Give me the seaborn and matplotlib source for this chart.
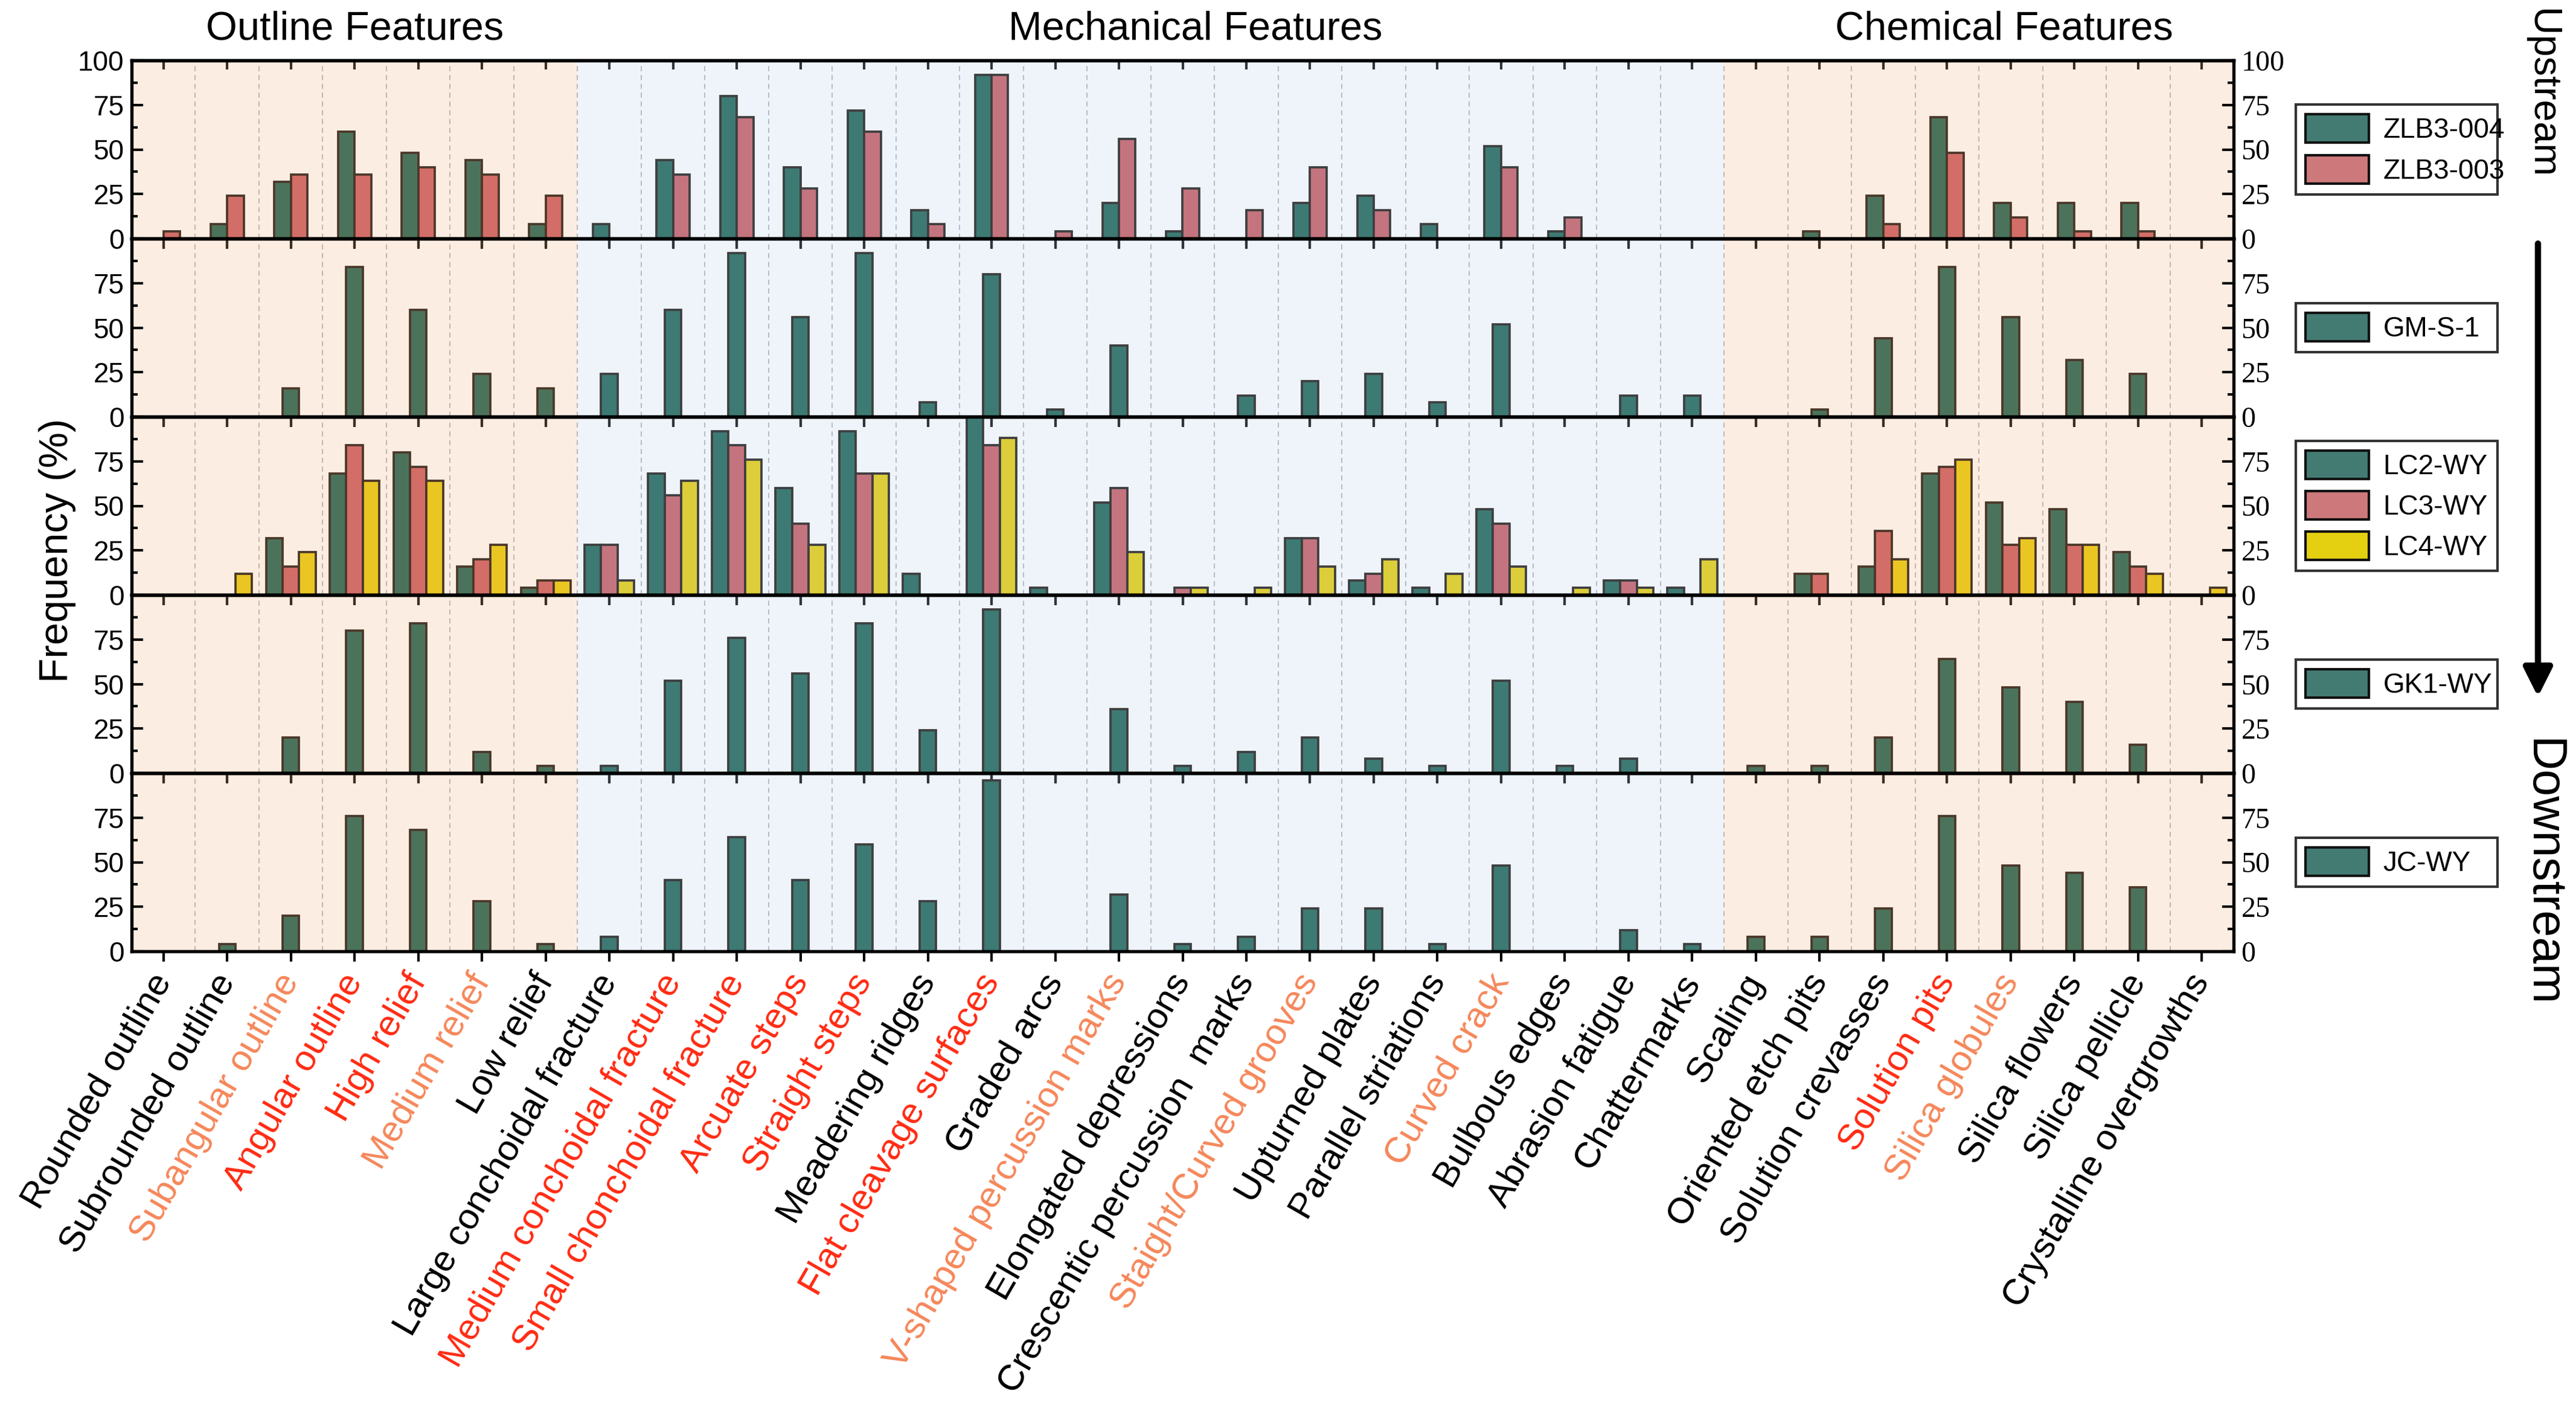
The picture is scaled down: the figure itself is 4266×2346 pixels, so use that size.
import numpy as np
import pandas as pd
import matplotlib
matplotlib.use("Agg")
import matplotlib.pyplot as plt
import matplotlib.transforms as mtransforms
from matplotlib.patches import Patch, FancyArrowPatch
import seaborn as sns

# ---------------- data ----------------
categories = [
    "Rounded outline", "Subrounded outline", "Subangular outline", "Angular outline",
    "High relief", "Medium relief", "Low relief",
    "Large conchoidal fracture", "Medium conchoidal fracture", "Small chonchoidal fracture",
    "Arcuate steps", "Straight steps", "Meadering ridges", "Flat cleavage surfaces",
    "Graded arcs", "V-shaped percussion marks", "Elongated depressions",
    "Crescentic percussion  marks", "Staight/Curved grooves", "Upturned plates",
    "Parallel striations", "Curved crack", "Bulbous edges", "Abrasion fatigue",
    "Chattermarks",
    "Scaling", "Oriented etch pits", "Solution crevasses", "Solution pits",
    "Silica globules", "Silica flowers", "Silica pellicle", "Crystalline overgrowths",
]
# label emphasis: 0 = black, 1 = orange, 2 = red
label_emphasis = [0, 0, 1, 2, 2, 1, 0,
                  0, 2, 2, 2, 2, 0, 2, 0, 1, 0, 0, 1, 0, 0, 1, 0, 0, 0,
                  0, 0, 0, 2, 1, 0, 0, 0]

zlb3_004 = [0, 8, 32, 60, 48, 44, 8, 8, 44, 80, 40, 72, 16, 92, 0, 20, 4, 0, 20, 24, 8, 52, 4, 0, 0,
            0, 4, 24, 68, 20, 20, 20, 0]
zlb3_003 = [4, 24, 36, 36, 40, 36, 24, 0, 36, 68, 28, 60, 8, 92, 4, 56, 28, 16, 40, 16, 0, 40, 12, 0, 0,
            0, 0, 8, 48, 12, 4, 4, 0]
gm_s_1 = [0, 0, 16, 84, 60, 24, 16, 24, 60, 92, 56, 92, 8, 80, 4, 40, 0, 12, 20, 24, 8, 52, 0, 12, 12,
          0, 4, 44, 84, 56, 32, 24, 0]
lc2_wy = [0, 0, 32, 68, 80, 16, 4, 28, 68, 92, 60, 92, 12, 100, 4, 52, 0, 0, 32, 8, 4, 48, 0, 8, 4,
          0, 12, 16, 68, 52, 48, 24, 0]
lc3_wy = [0, 0, 16, 84, 72, 20, 8, 28, 56, 84, 40, 68, 0, 84, 0, 60, 4, 0, 32, 12, 0, 40, 0, 8, 0,
          0, 12, 36, 72, 28, 28, 16, 0]
lc4_wy = [0, 12, 24, 64, 64, 28, 8, 8, 64, 76, 28, 68, 0, 88, 0, 24, 4, 4, 16, 20, 12, 16, 4, 4, 20,
          0, 0, 20, 76, 32, 28, 12, 4]
gk1_wy = [0, 0, 20, 80, 84, 12, 4, 4, 52, 76, 56, 84, 24, 92, 0, 36, 4, 12, 20, 8, 4, 52, 4, 8, 0,
          4, 4, 20, 64, 48, 40, 16, 0]
jc_wy = [0, 4, 20, 76, 68, 28, 4, 8, 40, 64, 40, 60, 28, 96, 0, 32, 4, 8, 24, 24, 4, 48, 0, 12, 4,
         8, 8, 24, 76, 48, 44, 36, 0]

panel_names = [["ZLB3-004", "ZLB3-003"], ["GM-S-1"], ["LC2-WY", "LC3-WY", "LC4-WY"], ["GK1-WY"], ["JC-WY"]]
panel_values = [[zlb3_004, zlb3_003], [gm_s_1], [lc2_wy, lc3_wy, lc4_wy], [gk1_wy], [jc_wy]]

group_titles = ["Outline Features", "Mechanical Features", "Chemical Features"]
group_bounds = [(-0.5, 6.5), (6.5, 24.5), (24.5, 32.5)]
title_pos = [3.0, 16.2, 28.9]

# ---------------- style ----------------
base_colors = ["#125b4c", "#c7535a", "#e6ca00"]
legend_colors = ["#437b72", "#cd787b", "#e4cf10"]
shade_colors = ["#f7bb8f", "#bfd7eb", "#f7bb8f"]
shade_alpha = 0.25
emph_colors = {0: "black", 1: "#f5875a", 2: "#ff2a12"}

sans = ["Liberation Sans", "DejaVu Sans"]
serif = ["Liberation Serif", "DejaVu Serif"]
plt.rcParams["font.family"] = sans

W, H = 4266, 2346
fig = plt.figure(figsize=(W / 300, H / 300), dpi=300, facecolor="white")

left_px, right_px = 218, 3699
top_px, bot_px = 100, 1575
ph = (bot_px - top_px) / 5

axes = []
for i in range(5):
    y0 = 1 - (top_px + (i + 1) * ph) / H
    ax = fig.add_axes([left_px / W, y0, (right_px - left_px) / W, ph / H])
    ax.set_facecolor("none")
    names = panel_names[i]
    vals = panel_values[i]
    n = len(names)
    df = pd.DataFrame({
        "feature": categories * n,
        "value": np.concatenate([np.asarray(v, float) for v in vals]),
        "sample": np.repeat(names, len(categories)),
    })
    sns.barplot(data=df, x="feature", y="value", hue="sample", order=categories,
                hue_order=names, palette=base_colors[:n], width=0.26 * n,
                errorbar=None, edgecolor="#140c08", linewidth=0.9, saturation=1,
                legend=False, ax=ax)
    ax.set_xlim(-0.5, len(categories) - 0.5)
    ax.set_ylim(0, 100)
    ax.set_xlabel("")
    ax.set_ylabel("")
    ax.set_axisbelow(False)

    # category separators
    for k in range(len(categories) - 1):
        ax.axvline(k + 0.5, color="#b5b5b5", lw=0.5, ls=(0, (4, 3)), zorder=0.8)
    # feature-group shading (translucent, over the bars)
    for (a, b), c in zip(group_bounds, shade_colors):
        ax.axvspan(a, b, color=c, alpha=shade_alpha, lw=0, zorder=1.4)

    for sp in ax.spines.values():
        sp.set_linewidth(1.3)
        sp.set_color("black")
        sp.set_zorder(3)

    # y ticks
    if i == 0:
        ax.set_yticks([0, 25, 50, 75, 100])
    else:
        ax.set_yticks([0, 25, 50, 75])
    ax.set_yticks([12.5, 37.5, 62.5, 87.5], minor=True)
    ax.tick_params(axis="y", which="both", direction="in", left=True, right=True,
                   labelleft=True, labelright=True, width=1.0, color="black")
    ax.tick_params(axis="y", which="major", length=4.5, labelsize=11, pad=3)
    ax.tick_params(axis="y", which="minor", length=2.5)
    for t in ax.yaxis.get_major_ticks():
        t.label1.set_fontfamily(sans)
        t.label2.set_fontfamily(serif)
        t.label2.set_fontsize(11.5)

    # x ticks
    ax.set_xticks(range(len(categories)))
    ax.tick_params(axis="x", which="major", direction="out", length=4, width=1.0,
                   bottom=True, top=False, color="black")
    sec = ax.secondary_xaxis("top")
    sec.set_xticks(range(len(categories)))
    sec.tick_params(axis="x", direction="in", length=3.5, width=1.0, labeltop=False)
    sec.spines["top"].set_linewidth(1.3)
    if i < 4:
        ax.tick_params(axis="x", labelbottom=False)
    else:
        ax.set_xticks(range(len(categories)))
        ax.set_xticklabels(categories, rotation=60, ha="right", va="center",
                           rotation_mode="anchor", fontsize=14.5)
        ax.tick_params(axis="x", pad=6)
        for lbl, e in zip(ax.get_xticklabels(), label_emphasis):
            lbl.set_color(emph_colors[e])

    # legend
    handles = [Patch(facecolor=legend_colors[j], edgecolor="#111111", lw=1.0) for j in range(n)]
    yc = 1 - (top_px + (i + 0.5) * ph) / H
    leg = fig.legend(handles, names, loc="center",
                     bbox_to_anchor=(3802 / W, yc, 334 / W, 0), mode="expand",
                     bbox_transform=fig.transFigure, frameon=True, fancybox=False,
                     edgecolor="black", fontsize=11, handlelength=2.3, handleheight=1.2,
                     labelspacing=0.4, borderpad=0.35, handletextpad=0.5, borderaxespad=0)
    leg.get_frame().set_linewidth(1.0)
    axes.append(ax)

# group titles
tr = mtransforms.blended_transform_factory(axes[0].transData, fig.transFigure)
for t, xp in zip(group_titles, title_pos):
    axes[0].text(xp, 1 - 49 / H, t, transform=tr, ha="center", va="center", fontsize=16)

fig.text(95 / W, 1 - 911 / H, "Frequency (%)", rotation=90, ha="center", va="center", fontsize=16)

# flow direction
fig.text(4209 / W, 1 - 295 / H, "Upstream", rotation=-90, ha="center", va="bottom", fontsize=15.5)
fig.text(4209 / W, 1 - 1445 / H, "Downstream", rotation=-90, ha="center", va="center", fontsize=19)
arrow = FancyArrowPatch((4203 / W, 1 - 395 / H), (4203 / W, 1 - 1162 / H),
                        transform=fig.transFigure, arrowstyle="-|>", mutation_scale=24,
                        lw=2.5, color="black")
fig.add_artist(arrow)

fig.savefig("out.png", dpi=300, facecolor="white")
